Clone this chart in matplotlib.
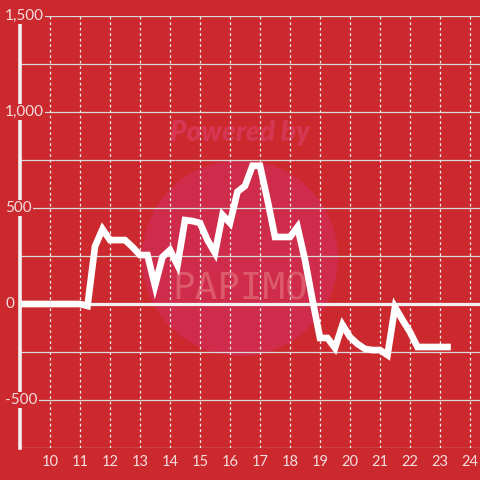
import matplotlib
matplotlib.use("Agg")
import matplotlib.pyplot as plt
from matplotlib.patches import Circle
import matplotlib.transforms as mtransforms

# ---- data ----
hours = [9.0 + 0.25 * i for i in range(58)]
values = [0, 0, 0, 0, 0, 0, 0, 0,          # 9.00 - 10.75
          0, -10, 300, 390,                # 11.00 - 11.75
          333, 333, 333, 297,              # 12
          255, 255, 95, 245,               # 13
          281, 203, 437, 432,              # 14
          422, 333, 266, 464,              # 15
          422, 585, 615, 720,              # 16
          720, 542, 349, 349,              # 17
          349, 401, 229, 21,               # 18
          -177, -177, -229, -109,          # 19
          -172, -208, -234, -240,          # 20
          -240, -266, -16, -83,            # 21
          -146, -224, -224, -224,          # 22
          -224, -224]                      # 23
x_ticks = list(range(10, 25))
y_ticks = [1500, 1000, 500, 0, -500]
y_tick_labels = ["1,500", "1,000", "500", "0", "-500"]
y_grid = [-750, -500, -250, 250, 500, 750, 1000, 1250, 1500]

BG = "#cc292e"
TXT = "#f3dede"

plt.rcParams['font.family'] = ['Lato', 'DejaVu Sans']

fig = plt.figure(figsize=(4.8, 4.8), dpi=100, facecolor=BG)
ax = fig.add_axes([20/480, 32/480, 460/480, 432/480])
ax.set_facecolor("none")
ax.set_xlim(9, 24 + 1/3)
ax.set_ylim(-750, 1500)

# watermark
ax.add_patch(Circle((0.5, 1 - 258/480), 98/480, transform=fig.transFigure,
                    facecolor="#cf2b4a", edgecolor="none", zorder=0.5,
                    clip_on=False))
ax.text(0.5, 1 - 133/480, "Powered by", transform=fig.transFigure,
        ha="center", va="center", fontsize=20, fontweight="heavy",
        style="italic", color="#d53652", zorder=0.6)
ax.text(0.5, 1 - 290/480, "PAPIMO", transform=fig.transFigure,
        ha="center", va="center", fontsize=27, family=["DejaVu Sans Mono"],
        color="#dc5a6a", zorder=0.6)

# grid
for y in y_grid:
    ax.axhline(y, color="#d9d9d9", lw=0.9, zorder=1)
ax.axhline(0, color="#f2f2f2", lw=2.3, zorder=1)
for x in x_ticks:
    ax.plot([x, x], [-750, 1500], color="#ececec", lw=0.9,
            linestyle=(0, (2.2, 2.2)), zorder=1)

# data line
ax.plot(hours, values, color="white", lw=4.8, solid_joinstyle="miter",
        solid_capstyle="projecting", zorder=3)

# spines
for s in ["top", "right", "bottom"]:
    ax.spines[s].set_visible(False)
ax.spines["left"].set_color("#f4f0f0")
ax.spines["left"].set_linewidth(2.6)
ax.spines["left"].set_bounds(-750, 1460)
ax.spines["left"].set_zorder(3.5)

ax.set_yticks([])
ax.set_xticks(x_ticks)
ax.set_xticklabels([str(x) for x in x_ticks], fontsize=10.5, color=TXT)
ax.tick_params(axis="x", length=0, pad=5)

trans = mtransforms.blended_transform_factory(fig.transFigure, ax.transData)
for y, lab in zip(y_ticks, y_tick_labels):
    ax.text(5/480, y, lab, transform=trans, ha="left", va="center",
            fontsize=11, color=TXT, clip_on=False, zorder=4,
            bbox=dict(facecolor=BG, edgecolor="none", pad=1.0))

fig.savefig("out.png", dpi=100, facecolor=BG)
